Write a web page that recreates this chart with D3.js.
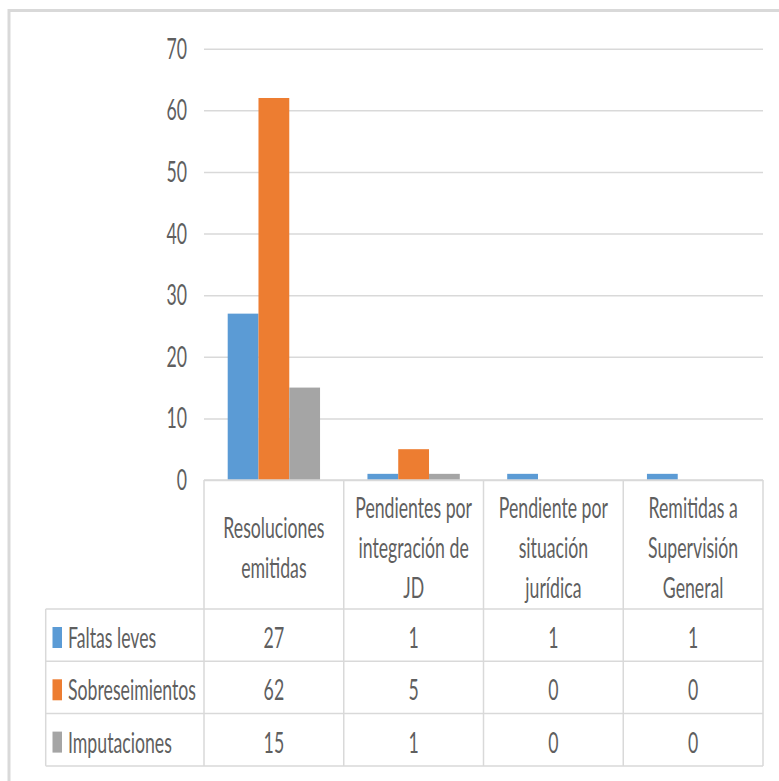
<!DOCTYPE html>
<html>
<head>
<meta charset="utf-8">
<script src="https://cdn.jsdelivr.net/npm/d3@7"></script>
<style>
  body { margin: 0; background: #fff; }
  text { font-family: Lato, "Open Sans", sans-serif; fill: #5f5f5f; }
</style>
</head>
<body>
<script>
// chart data
var categories = ["Resoluciones emitidas", "Pendientes por integración de JD",
                  "Pendiente por situación jurídica", "Remitidas a Supervisión General"];
var categoryLines = [["Resoluciones", "emitidas"],
                     ["Pendientes por", "integración de", "JD"],
                     ["Pendiente por", "situación", "jurídica"],
                     ["Remitidas a", "Supervisión", "General"]];
var seriesNames = ["Faltas leves", "Sobreseimientos", "Imputaciones"];
var faltasLeves = [27, 1, 1, 1];
var sobreseimientos = [62, 5, 0, 0];
var imputaciones = [15, 1, 0, 0];
var yTicks = [0, 10, 20, 30, 40, 50, 60, 70];

var seriesValues = [faltasLeves, sobreseimientos, imputaciones];
var colors = ["#5b9bd5", "#ed7d31", "#a5a5a5"];

var W = 779, H = 781;
var fontSize = 29, sx = 0.61;       // text is horizontally squeezed
var gridColor = "#d9d9d9";

var plotLeft = 204, plotRight = 763, plotTop = 48.7, plotBottom = 480;
var tableLeft = 45.7, headerBottom = 609, rowH = 52.3;

var svg = d3.select("body").append("svg")
    .attr("width", W)
    .attr("height", H);

var x0 = d3.scaleBand().domain(categories).range([plotLeft, plotRight]);
var x1 = d3.scaleBand().domain(seriesNames).range([0, x0.bandwidth()]).paddingOuter(0.77);
var y = d3.scaleLinear().domain([0, 70]).range([plotBottom, plotTop]);

function squeezed(sel, x, yy, anchor, txt) {
  return sel.append("text")
      .attr("transform", "translate(" + x + "," + yy + ") scale(" + sx + ",1)")
      .attr("font-size", fontSize + "px")
      .style("text-anchor", anchor)
      .text(txt);
}

// outer frame (top and left)
svg.append("line").attr("x1", 8).attr("x2", W).attr("y1", 10.5).attr("y2", 10.5)
    .attr("stroke", gridColor).attr("stroke-width", 3);
svg.append("line").attr("x1", 9).attr("x2", 9).attr("y1", 9).attr("y2", H)
    .attr("stroke", gridColor).attr("stroke-width", 3);

// gridlines + y labels
var y_axis = d3.axisLeft(y).tickValues(yTicks).tickSize(-(plotRight - plotLeft)).tickFormat("");
var gy = svg.append("g")
    .attr("transform", "translate(" + plotLeft + ",0)")
    .call(y_axis);
gy.select(".domain").remove();
gy.selectAll(".tick line").attr("stroke", gridColor).attr("stroke-width", 1.5);

yTicks.forEach(function(t) {
  squeezed(svg, 187, y(t) + 10, "end", t);
});

// bars
var groups = svg.selectAll(".grp")
    .data(categories)
    .enter().append("g")
    .attr("transform", function(d) { return "translate(" + x0(d) + ",0)"; });

groups.selectAll("rect")
    .data(function(d, i) { return seriesNames.map(function(s, j) { return {s: s, v: seriesValues[j][i], j: j}; }); })
    .enter().append("rect")
    .attr("x", function(d) { return x1(d.s); })
    .attr("width", x1.bandwidth())
    .attr("y", function(d) { return y(d.v); })
    .attr("height", function(d) { return y(0) - y(d.v); })
    .attr("fill", function(d) { return colors[d.j]; });

// data table
var tableBottom = headerBottom + rowH * seriesNames.length;
var tbl = svg.append("g").attr("stroke", gridColor).attr("stroke-width", 1.5);
tbl.append("line").attr("x1", plotLeft).attr("x2", plotRight).attr("y1", plotBottom).attr("y2", plotBottom);
for (var r = 0; r <= seriesNames.length; r++) {
  var ly = headerBottom + r * rowH;
  tbl.append("line").attr("x1", tableLeft).attr("x2", plotRight).attr("y1", ly).attr("y2", ly);
}
tbl.append("line").attr("x1", tableLeft).attr("x2", tableLeft).attr("y1", headerBottom).attr("y2", tableBottom);
categories.forEach(function(c) {
  tbl.append("line").attr("x1", x0(c)).attr("x2", x0(c)).attr("y1", plotBottom).attr("y2", tableBottom);
});
tbl.append("line").attr("x1", plotRight).attr("x2", plotRight).attr("y1", plotBottom).attr("y2", tableBottom);

// category header labels
categories.forEach(function(c, i) {
  var lines = categoryLines[i];
  var cx = x0(c) + x0.bandwidth() / 2;
  var first = 557.5 - (lines.length - 1) * 20;
  lines.forEach(function(l, k) {
    squeezed(svg, cx, first + k * 40, "middle", l);
  });
});

// rows: legend keys + values
seriesNames.forEach(function(s, j) {
  var base = headerBottom + j * rowH + 39;
  svg.append("rect")
      .attr("x", 52.5).attr("y", base - 21)
      .attr("width", 9.5).attr("height", 21)
      .attr("fill", colors[j]);
  squeezed(svg, 68, base, "start", s);
  categories.forEach(function(c, i) {
    squeezed(svg, x0(c) + x0.bandwidth() / 2, base, "middle", seriesValues[j][i]);
  });
});
</script>
</body>
</html>
